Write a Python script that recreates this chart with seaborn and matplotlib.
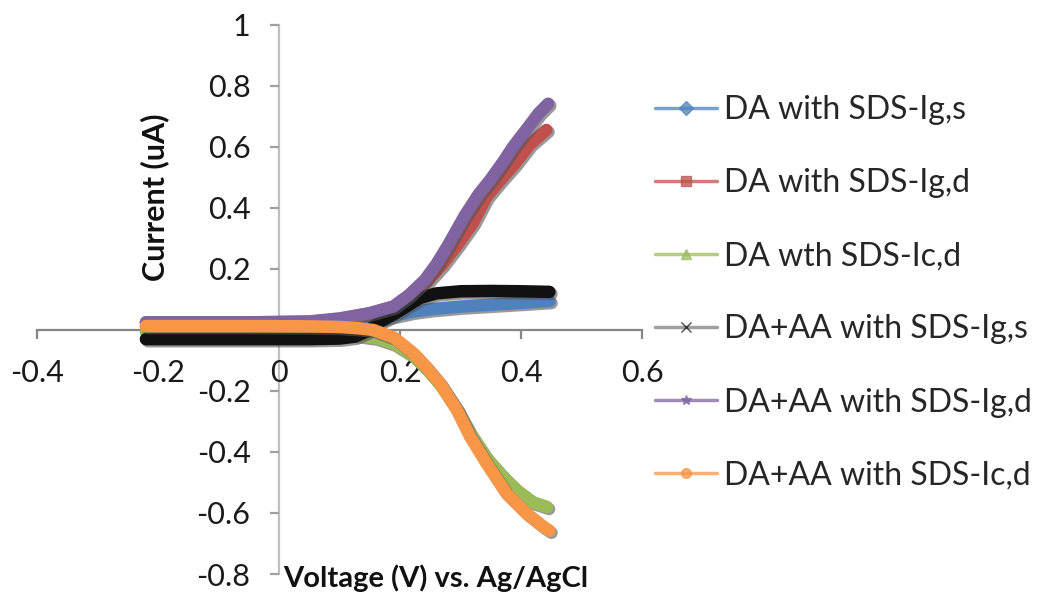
import matplotlib
matplotlib.use("Agg")
import matplotlib.pyplot as plt
import matplotlib.patheffects as pe
from matplotlib.lines import Line2D
import seaborn as sns
import pandas as pd

# ---- data ----
series_names = ["DA with SDS-Ig,s", "DA with SDS-Ig,d", "DA wth SDS-Ic,d",
                "DA+AA with SDS-Ig,s", "DA+AA with SDS-Ig,d", "DA+AA with SDS-Ic,d"]

blue_v = [-0.22, -0.15, -0.05, 0.05, 0.1, 0.13, 0.16, 0.19, 0.22, 0.25, 0.3, 0.35, 0.4, 0.447]
blue_i = [0.012, 0.012, 0.012, 0.012, 0.014, 0.02, 0.032, 0.047, 0.06, 0.068, 0.077, 0.083, 0.089, 0.095]

red_v = [-0.22, -0.15, -0.05, 0.05, 0.1, 0.15, 0.19, 0.22, 0.245, 0.27, 0.295, 0.32, 0.343, 0.365, 0.39, 0.415, 0.442]
red_i = [0.025, 0.025, 0.025, 0.027, 0.036, 0.055, 0.077, 0.115, 0.16, 0.215, 0.28, 0.35, 0.437, 0.49, 0.546, 0.61, 0.656]

green_v = [-0.22, -0.15, -0.05, 0.05, 0.1, 0.13, 0.16, 0.19, 0.222, 0.245, 0.266, 0.294, 0.316, 0.343, 0.37, 0.393, 0.42, 0.443]
green_i = [-0.007, -0.007, -0.007, -0.008, -0.012, -0.017, -0.025, -0.045, -0.085, -0.13, -0.178, -0.26, -0.34, -0.42, -0.48, -0.525, -0.565, -0.58]

black_v = [-0.22, -0.15, -0.05, 0.05, 0.1, 0.125, 0.145, 0.167, 0.19, 0.205, 0.233, 0.26, 0.3, 0.35, 0.4, 0.447]
black_i = [-0.03, -0.03, -0.03, -0.03, -0.028, -0.022, -0.005, 0.027, 0.052, 0.07, 0.105, 0.12, 0.127, 0.128, 0.127, 0.125]

purple_v = [-0.22, -0.15, -0.05, 0.05, 0.1, 0.15, 0.189, 0.215, 0.241, 0.26, 0.28, 0.307, 0.33, 0.349, 0.37, 0.387, 0.41, 0.429, 0.445]
purple_i = [0.025, 0.025, 0.025, 0.028, 0.038, 0.055, 0.077, 0.115, 0.164, 0.215, 0.28, 0.375, 0.445, 0.492, 0.55, 0.601, 0.66, 0.71, 0.742]

orange_v = [-0.22, -0.15, -0.05, 0.05, 0.1, 0.13, 0.156, 0.19, 0.222, 0.245, 0.266, 0.294, 0.316, 0.343, 0.376, 0.409, 0.437, 0.447]
orange_i = [0.013, 0.013, 0.013, 0.012, 0.01, 0.006, 0.0, -0.025, -0.076, -0.125, -0.175, -0.262, -0.35, -0.437, -0.536, -0.601, -0.645, -0.658]

x_ticks = [-0.4, -0.2, 0, 0.2, 0.4, 0.6]
x_tick_labels = ["-0.4", "-0.2", "0", "0.2", "0.4", "0.6"]
y_ticks = [-0.8, -0.6, -0.4, -0.2, 0, 0.2, 0.4, 0.6, 0.8, 1]
y_tick_labels = ["-0.8", "-0.6", "-0.4", "-0.2", "0", "0.2", "0.4", "0.6", "0.8", "1"]

x_title = "Voltage (V) vs. Ag/AgCl"
y_title = "Current (uA)"

colors = ["#4F81BD", "#C0504D", "#9BBB59", "#111111", "#8064A2", "#F79646"]
markers = ["D", "s", "^", "x", "*", "o"]

# ---- build long table ----
all_v = [blue_v, red_v, green_v, black_v, purple_v, orange_v]
all_i = [blue_i, red_i, green_i, black_i, purple_i, orange_i]
rows = []
for name, vs, cs in zip(series_names, all_v, all_i):
    for v, c in zip(vs, cs):
        rows.append({"series": name, "v": v, "i": c})
df = pd.DataFrame(rows)

sns.set_theme(style="white")
plt.rcParams["font.family"] = ["Lato", "DejaVu Sans"]

fig = plt.figure(figsize=(10.4, 5.97), dpi=100)
ax = fig.add_axes([37 / 1040, 1 - 574 / 597, 605 / 1040, 549 / 597])

sns.lineplot(data=df, x="v", y="i", hue="series", hue_order=series_names,
             palette=colors, sort=False, estimator=None, units="series",
             lw=9, legend=False, ax=ax, solid_capstyle="round",
             solid_joinstyle="round",
             path_effects=[pe.SimpleLineShadow(offset=(1.5, -1.5), shadow_color="#555555", alpha=0.6),
                           pe.Normal()])

ax.set_xlim(-0.4, 0.6)
ax.set_ylim(-0.8, 1.0)
ax.set_xticks(x_ticks)
ax.set_xticklabels(x_tick_labels)
ax.set_yticks(y_ticks)
ax.set_yticklabels(y_tick_labels)
ax.set_xlabel("")
ax.set_ylabel("")

for s in ["top", "right"]:
    ax.spines[s].set_visible(False)
ax.spines["left"].set_position(("data", 0))
ax.spines["bottom"].set_position(("data", 0))
ax.spines["left"].set_color("#BFBFBF")
ax.spines["bottom"].set_color("#868686")
ax.spines["left"].set_linewidth(1.6)
ax.spines["bottom"].set_linewidth(1.6)
ax.set_axisbelow(True)
for sp in ax.spines.values():
    sp.set_zorder(0.5)

ax.tick_params(axis="x", direction="out", length=6.5, width=1.6, color="#868686",
               pad=14.5, labelsize=22, labelcolor="#1a1a1a", bottom=True)
ax.tick_params(axis="y", direction="out", length=6.5, width=1.6, color="#A0A0A0",
               pad=14, labelsize=22, labelcolor="#1a1a1a", left=True)
for t in ax.get_xticklabels() + ax.get_yticklabels():
    t.set_zorder(0.4)

fig.text(155 / 1040, 1 - 197 / 597, y_title, rotation=90, ha="center", va="center",
         fontsize=22, fontweight="bold", color="#111111")
fig.text(283 / 1040, 1 - 578 / 597, x_title, ha="left", va="center",
         fontsize=21, fontweight="bold", color="#111111")

handles = [Line2D([0], [0], color=c, lw=2.5, alpha=0.75, marker=m, markersize=7,
                  markerfacecolor=c, markeredgecolor=c)
           for c, m in zip(colors, markers)]
handles[3].set_color("#7F7F7F")
handles[3].set_markeredgecolor("#111111")
fig.legend(handles, series_names, loc="upper left", bbox_to_anchor=(655 / 1040, 1 - 95 / 597),
           frameon=False, fontsize=23, handlelength=1.95, handletextpad=0.22,
           labelspacing=1.35, borderpad=0, borderaxespad=0)

fig.savefig("out.png", dpi=100)
